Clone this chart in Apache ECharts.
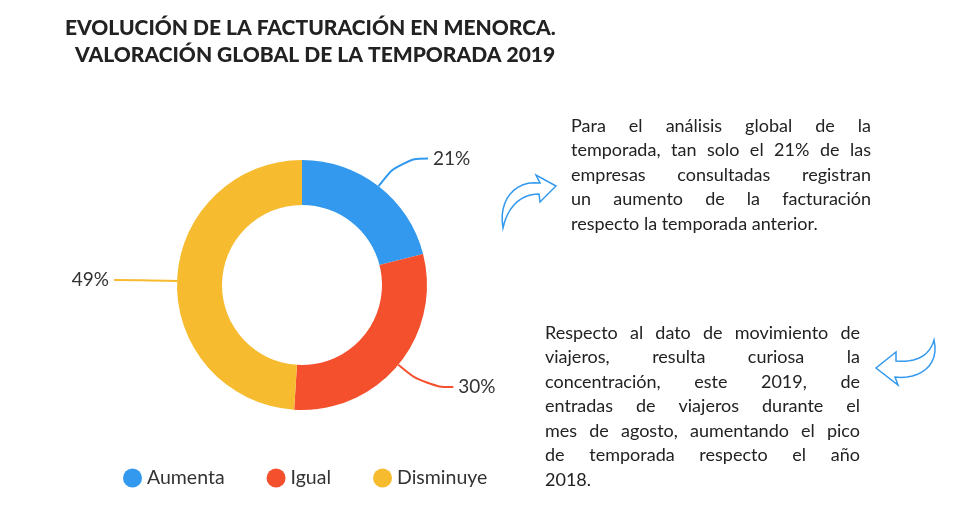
<!DOCTYPE html>
<html><head><meta charset="utf-8">
<script src="https://cdn.jsdelivr.net/npm/echarts@6/dist/echarts.min.js"></script>
<style>html,body{margin:0;background:#fff}#c{width:960px;height:529px}</style>
</head><body><div id="c"></div>
<script>
const categories = ['Aumenta','Igual','Disminuye'];
const values = [21,30,49];
const colors = ['#3399EE','#F4502E','#F6BB2F'];
const text1 = ['Para el análisis global de la','temporada, tan solo el 21% de las','empresas consultadas registran','un aumento de la facturación','respecto la temporada anterior.'];
const text2 = ['Respecto al dato de movimiento de','viajeros, resulta curiosa la','concentración, este 2019, de','entradas de viajeros durante el','mes de agosto, aumentando el pico','de temporada respecto el año','2018.'];
const F = 'Lato, "Open Sans", sans-serif';
const FONT = '18px ' + F;
const chart = echarts.init(document.getElementById('c'));
const ctx = document.createElement('canvas').getContext('2d');
ctx.font = FONT;
function para(lines, x, y, w){
  const out=[];
  lines.forEach((l,i)=>{
    const yy=y+i*24.5;
    const words=l.split(' ');
    if(i===lines.length-1||words.length<2){out.push({type:'text',x:x,y:yy,style:{text:l,font:FONT,fill:'#222'}});return;}
    const tw=words.reduce((s,wd)=>s+ctx.measureText(wd).width,0);
    const gap=(w-tw)/(words.length-1);
    let cx=x;
    words.forEach(wd=>{out.push({type:'text',x:cx,y:yy,style:{text:wd,font:FONT,fill:'#222'}});cx+=ctx.measureText(wd).width+gap;});
  });
  return out;
}
function bez(p0,p1,p2,p3,n){const r=[];for(let i=0;i<=n;i++){const t=i/n,u=1-t;
  r.push([u*u*u*p0[0]+3*u*u*t*p1[0]+3*u*t*t*p2[0]+t*t*t*p3[0],u*u*u*p0[1]+3*u*u*t*p1[1]+3*u*t*t*p2[1]+t*t*t*p3[1]]);}return r;}
const arrow1 = [...bez([503,228],[498,200],[515,180],[540,183],12),[536,175],[556,186],[540,202],[539,194],...bez([539,194],[522,194],[508,205],[503,228],12)];
const arrow2 = [...bez([934,340],[940,365],[920,380],[895,377],12),[898,385],[876,368],[896,352],[896,361],...bez([896,361],[915,363],[930,356],[934,340],12)];
chart.setOption({
  title:{text:'EVOLUCIÓN DE LA FACTURACIÓN EN MENORCA.\n  VALORACIÓN GLOBAL DE LA TEMPORADA 2019',left:60,top:10,
    textStyle:{fontFamily:F,fontWeight:900,fontSize:21,color:'#222',lineHeight:27}},
  color:colors,
  legend:{bottom:36,left:118,icon:'circle',itemWidth:19,itemHeight:19,itemGap:42,
    textStyle:{fontFamily:F,fontSize:19.5,color:'#333'},data:categories},
  series:[{type:'pie',center:[302,285],radius:[80,125],startAngle:90,
    data:categories.map((c,i)=>({name:c,value:values[i]})),
    label:{formatter:'{c}%',fontFamily:F,fontSize:19,color:'#333'},
    labelLine:{length:35,length2:28,smooth:0.5,lineStyle:{width:2}},
    itemStyle:{borderWidth:0}}],
  graphic:[
    ...para(text1,571,117,300),
    ...para(text2,545,324,315),
    {type:'polygon',shape:{points:arrow1},style:{fill:'#fff',stroke:'#3399EE',lineWidth:1.5}},
    {type:'polygon',shape:{points:arrow2},style:{fill:'#fff',stroke:'#3399EE',lineWidth:1.5}}
  ]
});
</script></body></html>
